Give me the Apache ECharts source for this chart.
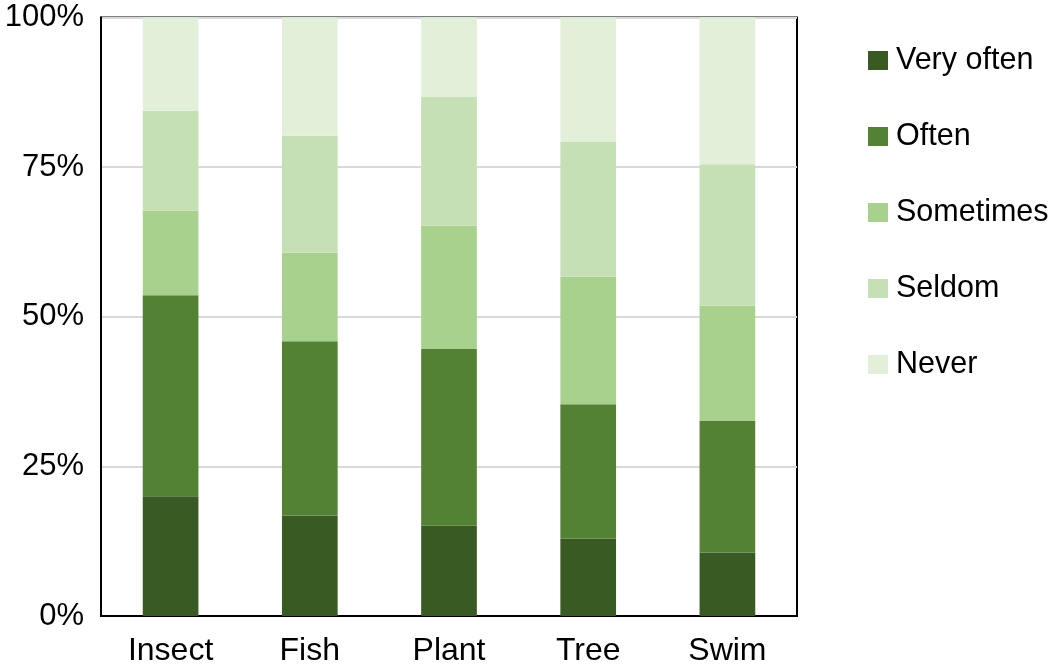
<!DOCTYPE html>
<html>
<head>
<meta charset="utf-8">
<script src="https://cdn.jsdelivr.net/npm/echarts@6/dist/echarts.min.js"></script>
<style>
html,body{margin:0;padding:0;background:#fff;}
#chart{width:1050px;height:667px;}
</style>
</head>
<body>
<div id="chart"></div>
<script>
const categories = ['Insect', 'Fish', 'Plant', 'Tree', 'Swim'];
const seriesNames = ['Very often', 'Often', 'Sometimes', 'Seldom', 'Never'];
const veryOften = [20.0, 16.8, 15.1, 12.9, 10.6];
const often     = [33.6, 29.1, 29.5, 22.5, 22.0];
const sometimes = [14.15, 14.8, 20.65, 21.3, 19.3];
const seldom    = [16.65, 19.55, 21.45, 22.6, 23.6];
const never     = [15.6, 19.75, 13.3, 20.7, 24.5];
const yTicks = [0, 25, 50, 75, 100];

const colors = ['#3a5a23', '#548235', '#a9d18e', '#c5e0b4', '#e2f0d9'];
const values = [veryOften, often, sometimes, seldom, never];
const font = '"Liberation Sans", Arial, Helvetica, sans-serif';

const chart = echarts.init(document.getElementById('chart'), null, {renderer: 'canvas'});
chart.setOption({
  animation: false,
  backgroundColor: '#fff',
  color: colors,
  grid: {
    left: 101, right: 253, top: 17.5, bottom: 49.5,
    show: true, borderColor: '#000', borderWidth: 2, backgroundColor: 'transparent'
  },
  legend: {
    orient: 'vertical',
    left: 863, top: 40,
    icon: 'rect',
    itemWidth: 20, itemHeight: 19,
    itemGap: 45,
    data: seriesNames,
    textStyle: {fontFamily: font, fontSize: 30.5, color: '#000', lineHeight: 30, padding: [0, 0, 0, 3]}
  },
  xAxis: {
    type: 'category',
    data: categories,
    axisLine: {show: true, lineStyle: {color: '#000', width: 2}},
    axisTick: {show: false},
    axisLabel: {fontFamily: font, fontSize: 32, color: '#000', margin: 19}
  },
  yAxis: {
    type: 'value',
    min: yTicks[0], max: yTicks[yTicks.length - 1], interval: 25,
    axisLine: {show: true, lineStyle: {color: '#000', width: 2}},
    axisTick: {show: false},
    splitLine: {show: true, lineStyle: {color: '#d9d9d9', width: 2}},
    axisLabel: {fontFamily: font, fontSize: 31, color: '#000', margin: 17, formatter: '{value}%'}
  },
  series: seriesNames.map((name, i) => ({
    name: name,
    type: 'bar',
    stack: 'total',
    barWidth: '40%',
    data: values[i],
    itemStyle: {color: colors[i]}
  }))
});
</script>
</body>
</html>
